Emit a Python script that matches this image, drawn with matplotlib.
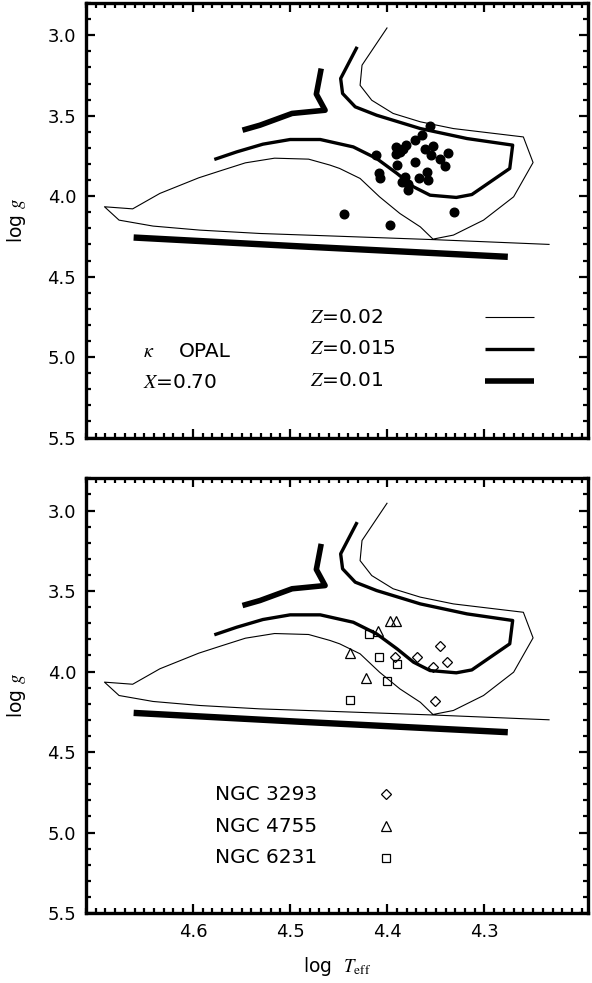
import matplotlib
matplotlib.use("Agg")
import matplotlib.pyplot as plt
from matplotlib.ticker import MultipleLocator, FixedLocator

plt.rcParams['font.family'] = ['DejaVu Sans']
plt.rcParams['mathtext.fontset'] = 'stix'

# ---- data ----
# Z=0.02 track (thin): ZAMS right->left, then upper branch and loop
z02_x = [4.233, 4.353, 4.469, 4.531, 4.593, 4.641, 4.676, 4.691, 4.662, 4.634,
         4.594, 4.572, 4.546, 4.516, 4.481, 4.459, 4.449, 4.428, 4.408, 4.387,
         4.366, 4.353, 4.332, 4.301, 4.270, 4.250, 4.260, 4.332, 4.366, 4.394,
         4.416, 4.428, 4.426, 4.400]
z02_y = [4.300, 4.270, 4.245, 4.232, 4.211, 4.186, 4.149, 4.066, 4.079, 3.983,
         3.886, 3.843, 3.793, 3.764, 3.770, 3.807, 3.828, 3.890, 4.004, 4.108,
         4.191, 4.267, 4.242, 4.149, 4.004, 3.791, 3.632, 3.580, 3.538, 3.486,
         3.404, 3.311, 3.186, 2.952]
# Z=0.015 track (medium)
z015_x = [4.578, 4.555, 4.528, 4.500, 4.469, 4.435, 4.411, 4.390, 4.373, 4.356,
          4.329, 4.313, 4.274, 4.271, 4.318, 4.366, 4.411, 4.433, 4.446, 4.448,
          4.431]
z015_y = [3.772, 3.725, 3.677, 3.648, 3.648, 3.694, 3.766, 3.859, 3.942, 3.994,
          4.008, 3.990, 3.828, 3.683, 3.642, 3.580, 3.497, 3.445, 3.362, 3.269,
          3.072]
# Z=0.01 track (thick)
z01_x = [4.549, 4.531, 4.498, 4.464, 4.473, 4.468]
z01_y = [3.590, 3.559, 3.486, 3.466, 3.366, 3.207]
zams01_x = [4.661, 4.490, 4.276]
zams01_y = [4.257, 4.312, 4.377]

# top panel stars
stars_x = [4.356, 4.364, 4.372, 4.391, 4.381, 4.384, 4.387, 4.391, 4.361, 4.353,
           4.355, 4.338, 4.346, 4.341, 4.372, 4.390, 4.412, 4.409, 4.408, 4.382,
           4.385, 4.379, 4.379, 4.367, 4.359, 4.358, 4.445, 4.397, 4.331]
stars_y = [3.565, 3.621, 3.648, 3.694, 3.683, 3.704, 3.725, 3.739, 3.710, 3.689,
           3.745, 3.731, 3.772, 3.814, 3.787, 3.809, 3.745, 3.855, 3.890, 3.880,
           3.911, 3.925, 3.963, 3.890, 3.849, 3.901, 4.108, 4.180, 4.097]

# bottom panel clusters
ngc3293_x = [4.346, 4.369, 4.392, 4.353, 4.339, 4.351]
ngc3293_y = [3.840, 3.908, 3.912, 3.970, 3.943, 4.181]
ngc4755_x = [4.397, 4.391, 4.410, 4.438, 4.422]
ngc4755_y = [3.684, 3.684, 3.749, 3.885, 4.042]
ngc6231_x = [4.419, 4.409, 4.390, 4.400, 4.438]
ngc6231_y = [3.769, 3.908, 3.953, 4.057, 4.177]

xticks = [4.6, 4.5, 4.4, 4.3]
xticklabels = ['4.6', '4.5', '4.4', '4.3']
yticks = [3.0, 3.5, 4.0, 4.5, 5.0, 5.5]
yticklabels = ['3.0', '3.5', '4.0', '4.5', '5.0', '5.5']

cluster_names = ['NGC 3293', 'NGC 4755', 'NGC 6231']
z_labels = [r'$Z$=0.02', r'$Z$=0.015', r'$Z$=0.01']

# ---- styling ----
LW_THIN, LW_MED, LW_THICK = 0.8, 2.4, 4.0
XLIM = (4.71, 4.194)
YLIM = (5.5, 2.8)

fig = plt.figure(figsize=(5.92, 9.83), dpi=100)
ax1 = fig.add_axes([0.1453, 0.5549, 0.8471, 0.4420])
ax2 = fig.add_axes([0.1453, 0.0712, 0.8471, 0.4422])


def draw_tracks(ax):
    kw = dict(color='black', solid_capstyle='butt', solid_joinstyle='round')
    ax.plot(z02_x, z02_y, lw=LW_THIN, **kw)
    ax.plot(z015_x, z015_y, lw=LW_MED, **kw)
    ax.plot(z01_x, z01_y, lw=LW_THICK, **kw)
    ax.plot(zams01_x, zams01_y, lw=LW_THICK + 0.6, **kw)


def style(ax, xlabels):
    ax.set_xlim(*XLIM)
    ax.set_ylim(*YLIM)
    ax.xaxis.set_major_locator(FixedLocator(xticks))
    ax.xaxis.set_minor_locator(MultipleLocator(0.01))
    ax.yaxis.set_major_locator(FixedLocator(yticks))
    ax.yaxis.set_minor_locator(MultipleLocator(0.1))
    ax.set_yticklabels(yticklabels)
    if xlabels:
        ax.set_xticklabels(xticklabels)
    else:
        ax.set_xticklabels([])
    ax.tick_params(which='both', direction='in', top=True, right=True,
                   labelsize=13, width=1.6, pad=7)
    ax.tick_params(which='major', length=6.5)
    ax.tick_params(which='minor', length=3.6)
    for s in ax.spines.values():
        s.set_linewidth(2.4)
    ax.set_ylabel(r'log $g$', fontsize=13.5, labelpad=14)


# top panel
draw_tracks(ax1)
ax1.plot(stars_x, stars_y, 'o', color='black', ms=6.2, ls='none')
style(ax1, False)
ax1.text(4.651, 4.967, r'$\kappa$', fontsize=14.5, va='center', ha='left')
ax1.text(4.614, 4.967, 'OPAL', fontsize=14.5, va='center', ha='left')
ax1.text(4.651, 5.160, r'$X$=0.70', fontsize=14.5, va='center', ha='left')
legend_y = [4.752, 4.948, 5.146]
legend_lw = [LW_THIN, LW_MED, LW_THICK]
for lab, yy, lw in zip(z_labels, legend_y, legend_lw):
    ax1.text(4.480, yy, lab, fontsize=14.5, va='center', ha='left')
    ax1.plot([4.299, 4.249], [yy, yy], color='black', lw=lw, solid_capstyle='butt')

# bottom panel
draw_tracks(ax2)
mk = dict(color='black', mfc='none', ls='none', mew=0.9)
ax2.plot(ngc3293_x, ngc3293_y, 'D', ms=5.2, **mk)
ax2.plot(ngc4755_x, ngc4755_y, '^', ms=6.5, **mk)
ax2.plot(ngc6231_x, ngc6231_y, 's', ms=6.0, **mk)
style(ax2, True)
ax2.set_xlabel(r'log  $T_{\mathrm{eff}}$', fontsize=13.5, labelpad=10)
cl_y = [4.761, 4.960, 5.157]
cl_mk = [('D', 5.2), ('^', 6.5), ('s', 6.0)]
for name, yy, (m, s) in zip(cluster_names, cl_y, cl_mk):
    ax2.text(4.577, yy, name, fontsize=14.5, va='center', ha='left')
    ax2.plot([4.401], [yy], m, ms=s, **mk)

fig.savefig('out.png', dpi=100)
